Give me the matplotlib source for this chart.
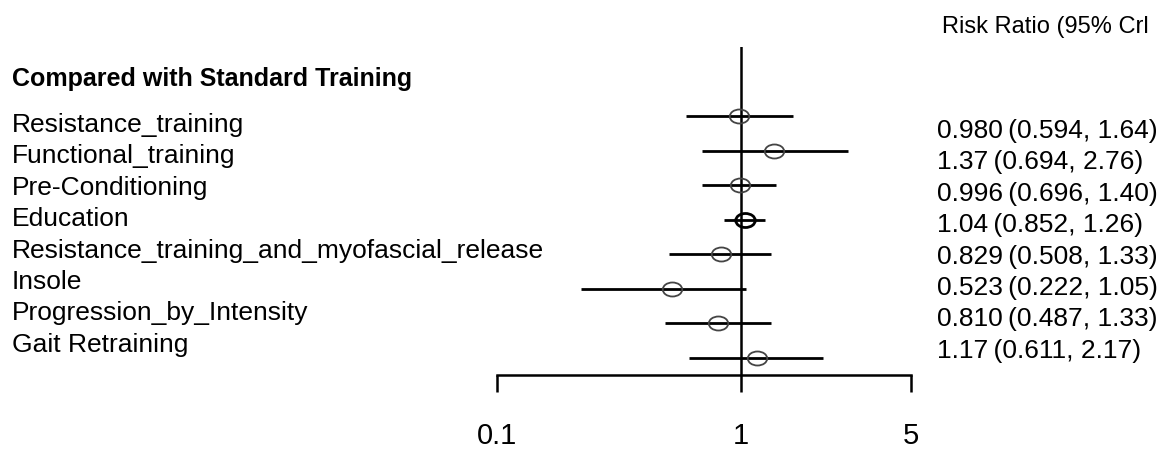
import numpy as np
import matplotlib
matplotlib.use("Agg")
import matplotlib.pyplot as plt
from matplotlib.path import Path

plt.rcParams["font.family"] = ["Liberation Sans", "DejaVu Sans"]

# network meta-analysis results, each arm compared with standard training
treatments = [
    "Resistance_training",
    "Functional_training",
    "Pre-Conditioning",
    "Education",
    "Resistance_training_and_myofascial_release",
    "Insole",
    "Progression_by_Intensity",
    "Gait Retraining",
]
risk_ratio = [0.980, 1.37, 0.996, 1.04, 0.829, 0.523, 0.810, 1.17]
ci_lower = [0.594, 0.694, 0.696, 0.852, 0.508, 0.222, 0.487, 0.611]
ci_upper = [1.64, 2.76, 1.40, 1.26, 1.33, 1.05, 1.33, 2.17]
x_ticks = [0.1, 1, 5]
x_tick_labels = ["0.1", "1", "5"]

W, H = 1170, 450
fig = plt.figure(figsize=(W / 100, H / 100), dpi=100)

# forest panel: log scale, one row per treatment
ax = fig.add_axes([497 / W, 75 / H, 414 / W, 328 / H])
ax.set_xscale("log")
ax.set_xlim(0.1, 5)
n = len(treatments)
ax.set_ylim(n - 0.5, -2)
rows = np.arange(n)

ax.axvline(1, color="black", lw=1.8, zorder=1)
ax.hlines(rows, ci_lower, ci_upper, color="black", lw=2.0, zorder=2)

# open points look slightly squashed (wider than tall)
circ = Path.unit_circle()
ellipse = Path(circ.vertices * np.array([1.0, 0.72]), circ.codes)
widths = np.log(np.array(ci_upper)) - np.log(np.array(ci_lower))
for i in rows:
    heavy = widths[i] == widths.min()
    ax.plot(risk_ratio[i], i, marker=ellipse, ms=14, mfc="none",
            mec="black" if heavy else "#444444", mew=2.0 if heavy else 1.3,
            zorder=3)

for side in ["left", "top", "right"]:
    ax.spines[side].set_visible(False)
ax.spines["bottom"].set_bounds(0.1, 5)
ax.spines["bottom"].set_linewidth(1.8)
ax.set_yticks([])
ax.set_xticks(x_ticks)
ax.set_xticklabels(x_tick_labels)
ax.xaxis.set_minor_locator(matplotlib.ticker.NullLocator())
ax.tick_params(axis="x", length=12, width=1.8, pad=22, labelsize=21)

# treatment names on the left, estimates on the right
fig.text(12 / W, 1 - 86 / H, "Compared with Standard Training",
         fontsize=18, fontweight="bold", va="baseline")
fig.text(942 / W, 1 - 33 / H, "Risk Ratio (95% Crl",
         fontsize=17, va="baseline")
for i, name in enumerate(treatments):
    fig.text(12 / W, 1 - (132 + 31.4 * i) / H, name, fontsize=19,
             va="baseline")
    est = f"{risk_ratio[i]:#.3g}\u2009({ci_lower[i]:#.3g}, {ci_upper[i]:#.3g})"
    fig.text(937 / W, 1 - (138 + 31.4 * i) / H, est, fontsize=19,
             va="baseline")

fig.savefig("out.png", dpi=100)
